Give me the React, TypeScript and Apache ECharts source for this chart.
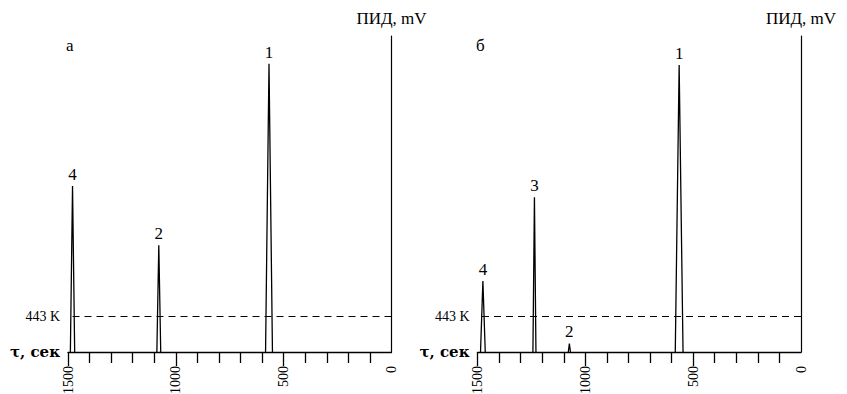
import React, { useEffect, useRef } from 'react';
import * as echarts from 'echarts';

// Axis ticks and labels (time, s)
const xTickLabels = [1500, 1000, 500, 0];
const xMajorTicks = [1500, 1000, 500];
const xMinorTicks = [1400, 1300, 1200, 1100, 900, 800, 700, 600, 400, 300, 200, 100];
const thresholdLevel = 11.3;
const thresholdLabel = '443 K';
const timeAxisLabel = 'τ, сек';
const signalAxisName = 'ПИД, mV';
const panelLetters = ['а', 'б'];

// Panel а peaks
const peaksA_labels = ['1', '2', '4'];
const peaksA_times = [568, 1079, 1479];
const peaksA_heights = [91.2, 33.8, 52.5];
const peaksA_halfWidths = [16, 9, 10];

// Panel б peaks
const peaksB_labels = ['1', '2', '3', '4'];
const peaksB_times = [565, 1074, 1236, 1475];
const peaksB_heights = [90.8, 2.7, 49, 22.5];
const peaksB_halfWidths = [18, 5, 7, 11];

const SERIF = '"Liberation Serif", "Times New Roman", serif';
const WIDE_SERIF = '"DejaVu Serif", serif';

export default function App() {
  const ref = useRef<HTMLDivElement>(null);
  useEffect(() => {
    document.body.style.margin = '0';
    const chart = echarts.init(ref.current!, null, { renderer: 'svg' });

    const grids = [
      { left: 68, right: 455.5, top: 36, bottom: 42, outerBoundsMode: 'none', containLabel: false },
      { left: 477.5, right: 46, top: 36, bottom: 42, outerBoundsMode: 'none', containLabel: false },
    ];

    const xAxes: any[] = [];
    const yAxes: any[] = [];
    grids.forEach((_, gi) => {
      xAxes.push({
        type: 'value', gridIndex: gi, min: 0, max: 1500, inverse: true, position: 'bottom',
        axisLine: { show: true, lineStyle: { color: '#000', width: 1.3 } },
        axisTick: { show: true, customValues: xMajorTicks, length: 14, lineStyle: { color: '#000', width: 1.3 } },
        axisLabel: {
          show: true, customValues: xTickLabels, rotate: 90, margin: 14,
          fontSize: 14, fontFamily: SERIF, color: '#000',
          formatter: (v: number) => String(v),
        },
        splitLine: { show: false },
      });
      xAxes.push({
        type: 'value', gridIndex: gi, min: 0, max: 1500, inverse: true, position: 'bottom',
        axisLine: { show: false },
        axisTick: { show: true, customValues: xMinorTicks, length: 11, lineStyle: { color: '#000', width: 1.3 } },
        axisLabel: { show: false },
        splitLine: { show: false },
      });
      yAxes.push({
        type: 'value', gridIndex: gi, min: 0, max: 100, position: 'right',
        axisLine: { show: true, onZero: false, lineStyle: { color: '#000', width: 1.2 } },
        axisTick: { show: false }, axisLabel: { show: false }, splitLine: { show: false },
        name: signalAxisName, nameLocation: 'end', nameGap: 9,
        nameTextStyle: { fontSize: 17, fontFamily: SERIF, color: '#000' },
      });
      yAxes.push({
        type: 'value', gridIndex: gi, min: 0, max: 100, position: 'left',
        axisLine: { show: false }, axisTick: { show: false }, splitLine: { show: false },
        axisLabel: {
          show: true, customValues: [0, thresholdLevel], margin: 8,
          formatter: (v: number) => (v < 1 ? `{t|${timeAxisLabel}}` : `{k|${thresholdLabel}}`),
          rich: {
            t: { fontSize: 15, fontFamily: WIDE_SERIF, color: '#000', fontWeight: 'bold' },
            k: { fontSize: 14, fontFamily: SERIF, color: '#000' },
          },
        },
      });
    });

    const buildSeries = (gi: number, labels: string[], times: number[], heights: number[], widths: number[]) =>
      times.map((t, i) => ({
        type: 'line',
        xAxisIndex: gi * 2,
        yAxisIndex: gi * 2,
        symbol: 'circle',
        symbolSize: 0,
        showSymbol: true,
        lineStyle: { color: '#000', width: 1.3 },
        itemStyle: { color: '#000' },
        data: [
          [t + widths[i], 0],
          {
            value: [t, heights[i]],
            label: {
              show: true, position: 'top', distance: 3, formatter: labels[i],
              fontSize: 17, fontFamily: SERIF, color: '#000',
            },
          },
          [t - widths[i], 0],
        ],
        markLine: i === 0 ? {
          silent: true, symbol: 'none', label: { show: false },
          lineStyle: { color: '#000', type: [7, 5], width: 1 },
          data: [{ yAxis: thresholdLevel }],
        } : undefined,
      }));

    chart.setOption({
      animation: false,
      grid: grids,
      xAxis: xAxes,
      yAxis: yAxes,
      graphic: [
        { type: 'text', left: 66, top: 37, style: { text: panelLetters[0], fontSize: 17, fontFamily: SERIF, fill: '#000' } },
        { type: 'text', left: 476, top: 37, style: { text: panelLetters[1], fontSize: 17, fontFamily: SERIF, fill: '#000' } },
      ],
      series: [
        ...buildSeries(0, peaksA_labels, peaksA_times, peaksA_heights, peaksA_halfWidths),
        ...buildSeries(1, peaksB_labels, peaksB_times, peaksB_heights, peaksB_halfWidths),
      ],
    });
    return () => chart.dispose();
  }, []);
  return <div ref={ref} style={{ width: 847, height: 394 }} />;
}
